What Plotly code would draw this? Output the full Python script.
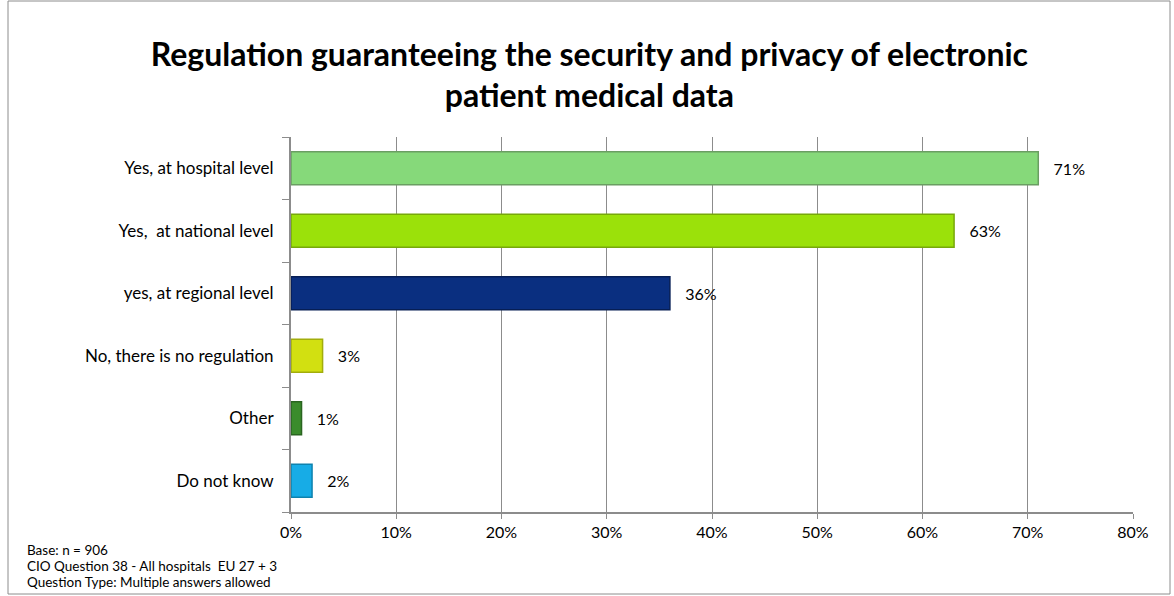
import plotly.graph_objects as go

categories = [
    "Yes, at hospital level",
    "Yes,  at national level",
    "yes, at regional level",
    "No, there is no regulation",
    "Other",
    "Do not know",
]
values = [71, 63, 36, 3, 1, 2]
bar_colors = ["#86D97A", "#9BE10A", "#0A2F80", "#D2E011", "#3B8C2C", "#17ACE6"]
edge_colors = ["#6A9E62", "#77A80A", "#061E55", "#A2AD0C", "#2A6520", "#0E82AE"]
tick_vals = [0, 10, 20, 30, 40, 50, 60, 70, 80]
tick_text = ["0%", "10%", "20%", "30%", "40%", "50%", "60%", "70%", "80%"]
footnote = [
    "Base: n = 906",
    "CIO Question 38 - All hospitals  EU 27 + 3",
    "Question Type: Multiple answers allowed",
]

FONT = "Lato"

fig = go.Figure(
    go.Bar(
        x=values,
        y=categories,
        orientation="h",
        width=0.53,
        marker=dict(color=bar_colors, line=dict(color=edge_colors, width=1.5)),
        text=[f"   {v}%" for v in values],
        textposition="outside",
        textfont=dict(family=FONT, size=16, color="#000000"),
        cliponaxis=False,
    )
)

fig.update_layout(
    width=1174,
    height=596,
    margin=dict(l=291, r=41, t=137, b=84),
    paper_bgcolor="white",
    plot_bgcolor="white",
    showlegend=False,
    font=dict(family=FONT, color="#000000"),
    title=dict(
        text="<b>Regulation guaranteeing the security and privacy of electronic<br>patient medical data</b>",
        x=0.502,
        xanchor="center",
        y=0.89,
        yanchor="middle",
        font=dict(family=FONT, size=32, color="#000000"),
    ),
)

fig.update_xaxes(
    range=[0, 80],
    tickvals=tick_vals,
    ticktext=tick_text,
    showgrid=True,
    gridcolor="#8C8C8C",
    gridwidth=1,
    showline=True,
    linecolor="#8C8C8C",
    linewidth=2,
    ticks="outside",
    ticklen=5,
    tickcolor="#8C8C8C",
    tickfont=dict(family=FONT, size=16, color="#000000"),
    zeroline=False,
)

fig.update_yaxes(
    categoryorder="array",
    categoryarray=categories[::-1],
    showline=True,
    linecolor="#8C8C8C",
    linewidth=2,
    ticks="outside",
    tickson="boundaries",
    ticklen=7,
    tickcolor="#8C8C8C",
    showgrid=False,
    tickfont=dict(family=FONT, size=17, color="#000000"),
    ticklabelstandoff=12,
)

for i, line in enumerate(footnote):
    fig.add_annotation(
        text=line,
        xref="paper",
        yref="paper",
        x=-291 / (1174 - 291 - 41) + 25 / (1174 - 291 - 41),
        y=-(550 - 512) / (512 - 137) - i * 16 / (512 - 137),
        xanchor="left",
        yanchor="middle",
        showarrow=False,
        font=dict(family=FONT, size=13.5, color="#000000"),
    )

# outer chart frame
fig.add_shape(
    type="rect",
    xref="paper",
    yref="paper",
    x0=-283 / 842,
    x1=1 + 37 / 842,
    y0=-(594 - 512) / 375,
    y1=1 + 136 / 375,
    line=dict(color="#8C8C8C", width=1),
    layer="below",
)

fig.write_html("out.html")
